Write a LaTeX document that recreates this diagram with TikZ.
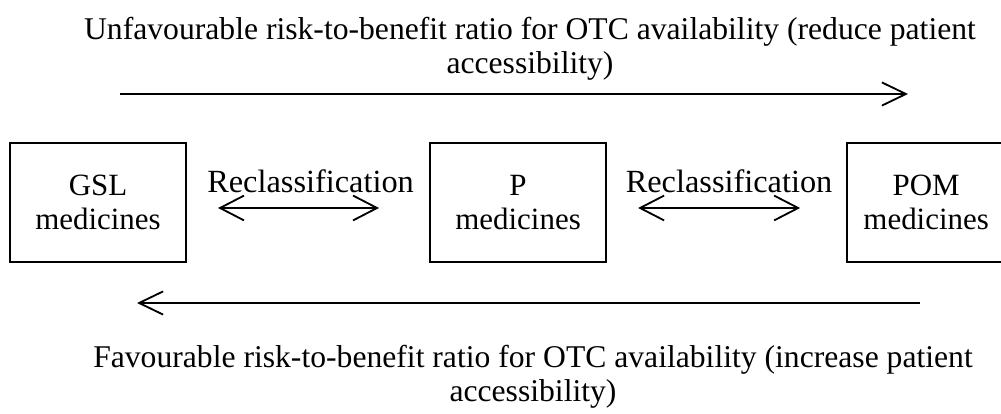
\documentclass[tikz,border=0pt]{standalone}
\usepackage{fontspec}
\setmainfont{Liberation Serif}
\usetikzlibrary{arrows.meta,positioning}

\begin{document}
\begin{tikzpicture}[
    x=0.025cm, y=0.025cm,
    font=\fontsize{22.5pt}{24.2pt}\selectfont,
    box/.style={rectangle, draw, line width=1.4pt, align=center, minimum width=4.4cm, minimum height=2.975cm, inner sep=0pt, text depth=0pt, font=\fontsize{22pt}{24.2pt}\selectfont},
    caption/.style={align=center, inner sep=0pt},
    lbl/.style={inner sep=0pt, font=\fontsize{23pt}{25pt}\selectfont},
    arrow/.style={line width=1.3pt, -{Straight Barb[length=0.6cm, width=0.58cm, line width=1.3pt]}},
    biarrow/.style={line width=1.3pt, {Straight Barb[length=0.6cm, width=0.62cm, line width=1.3pt]}-{Straight Barb[length=0.6cm, width=0.62cm, line width=1.3pt]}}
  ]
  \useasboundingbox (0,0) rectangle (1001,414);

  % Medicine classes
  \node[box] (gsl) at (98,211.5) {GSL\\medicines};
  \node[box, right=6.05cm of gsl] (p) {P\\medicines};
  \node[box, right=5.975cm of p, minimum width=3.95cm] (pom) {POM\\medicines};

  % Reclassification between neighbouring classes
  \node[lbl, right=0.5cm of gsl, yshift=0.54cm] (recl1) {Reclassification};
  \node[lbl, right=0.46cm of p, yshift=0.54cm] (recl2) {Reclassification};
  \draw[biarrow] ([xshift=0.775cm, yshift=-0.1375cm]gsl.east) -- ([xshift=-1.25cm, yshift=-0.1375cm]p.west);
  \draw[biarrow] ([xshift=0.775cm, yshift=-0.1375cm]p.east) -- ([xshift=-1.15cm, yshift=-0.1375cm]pom.west);

  % Risk-to-benefit direction arrows
  \node[caption] (unfav) at (530,365) {Unfavourable risk-to-benefit ratio for OTC availability (reduce patient\\accessibility)};
  \coordinate (ustart) at (120,320);
  \coordinate (uend) at (908,320);
  \draw[arrow] (ustart) -- (uend);

  \coordinate (fstart) at (920,111);
  \coordinate (fend) at (137,111);
  \draw[arrow] (fstart) -- (fend);
  \node[caption] (fav) at (533,37) {Favourable risk-to-benefit ratio for OTC availability (increase patient\\accessibility)};

\end{tikzpicture}
\end{document}
